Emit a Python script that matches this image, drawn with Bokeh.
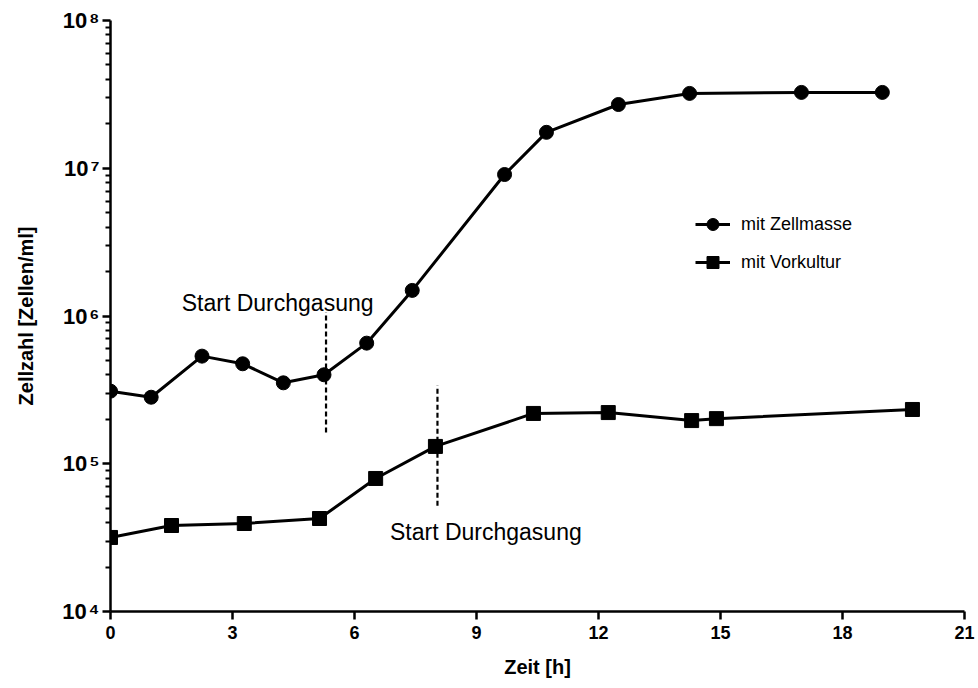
from bokeh.plotting import figure
from bokeh.models import FixedTicker, Legend, LegendItem
from bokeh.core.properties import value
from bokeh.embed import file_html
from bokeh.resources import INLINE

FONT = "Liberation Sans"

# --- data ---
zm_time = [0, 1.0, 2.25, 3.25, 4.25, 5.25, 6.3, 7.42, 9.69, 10.72, 12.49, 14.24, 16.99, 18.98]
zm_cells = [3.10e5, 2.82e5, 5.35e5, 4.75e5, 3.53e5, 4.0e5, 6.55e5, 1.49e6, 9.07e6,
            1.75e7, 2.70e7, 3.21e7, 3.26e7, 3.26e7]

vk_time = [0, 1.5, 3.29, 5.14, 6.52, 7.99, 10.4, 12.24, 14.29, 14.9, 19.72]
vk_cells = [3.17e4, 3.82e4, 3.94e4, 4.26e4, 7.95e4, 1.31e5, 2.19e5, 2.22e5, 1.96e5,
            2.02e5, 2.33e5]

gas_time = [5.3, 8.04]
gas_top = [1.06e6, 3.38e5]
gas_bottom = [1.63e5, 5.2e4]
gas_label_x = [4.11, 9.23]
gas_label_y = [1.23e6, 3.43e4]
gas_label = ["Start Durchgasung", "Start Durchgasung"]

series_names = ["mit Zellmasse", "mit Vorkultur"]

x_ticks = [0, 3, 6, 9, 12, 15, 18, 21]
y_ticks = [1e4, 1e5, 1e6, 1e7, 1e8]
y_tick_labels = ["10\u200a\u2074", "10\u200a\u2075", "10\u200a\u2076", "10\u200a\u2077", "10\u200a\u2078"]
y_minor = [m * 10 ** e for e in range(4, 8) for m in range(2, 10)]

p = figure(width=975, height=686, x_range=(0, 21), y_range=(1e4, 1e8),
           y_axis_type="log", output_backend="svg", toolbar_location=None,
           min_border_left=110, min_border_right=11, min_border_top=20,
           min_border_bottom=75)
p.outline_line_color = None
p.grid.visible = False
p.background_fill_color = "white"

# axes
p.xaxis.ticker = FixedTicker(ticks=x_ticks)
p.yaxis.ticker = FixedTicker(ticks=y_ticks, minor_ticks=y_minor)
p.yaxis.major_label_overrides = {t: l for t, l in zip(y_ticks, y_tick_labels)}
for ax in (p.xaxis[0], p.yaxis[0]):
    ax.axis_line_width = 2.5
    ax.axis_line_color = "black"
    ax.major_tick_line_width = 2.5
    ax.major_tick_line_color = "black"
    ax.major_tick_in = 0
    ax.major_tick_out = 8
    ax.minor_tick_line_width = 2
    ax.minor_tick_line_color = "black"
    ax.minor_tick_in = 0
    ax.minor_tick_out = 5
    ax.major_label_text_font = FONT
    ax.major_label_text_font_style = "bold"
    ax.major_label_text_color = "black"
    ax.axis_label_text_font = FONT
    ax.axis_label_text_font_style = "bold"
    ax.axis_label_text_font_size = "20px"
    ax.axis_label_text_color = "black"
p.xaxis.minor_tick_out = 0
p.xaxis.major_label_text_font_size = "18px"
p.yaxis.major_label_text_font_size = "22px"
p.xaxis.major_label_standoff = 6
p.yaxis.major_label_standoff = 3
p.xaxis.axis_label = "Zeit [h]"
p.yaxis.axis_label = "Zellzahl [Zellen/ml]"
p.xaxis.axis_label_standoff = 14
p.yaxis.axis_label_standoff = 22

# dashed markers for gassing start
p.segment(x0=gas_time, y0=gas_bottom, x1=gas_time, y1=gas_top,
          line_color="black", line_width=2.2, line_dash="5 3")
p.text(x=gas_label_x, y=gas_label_y, text=gas_label, text_align="center",
       text_baseline="alphabetic", text_font=value(FONT), text_font_size="23px",
       text_color="black")

# series
l1 = p.line(zm_time, zm_cells, line_color="black", line_width=3)
s1 = p.scatter(zm_time, zm_cells, marker="circle", size=14, fill_color="black",
               line_color="black")
l2 = p.line(vk_time, vk_cells, line_color="black", line_width=3)
s2 = p.scatter(vk_time, vk_cells, marker="square", size=14, fill_color="black",
               line_color="black")

legend = Legend(items=[LegendItem(label=series_names[0], renderers=[l1, s1]),
                       LegendItem(label=series_names[1], renderers=[l2, s2])],
                location=(585, 334), orientation="vertical",
                glyph_width=35, glyph_height=30, label_height=30, spacing=8,
                label_standoff=11, padding=0, margin=0,
                border_line_color=None, background_fill_alpha=0,
                label_text_font=FONT, label_text_font_size="18px",
                label_text_color="black")
p.add_layout(legend)

open("out.html", "w").write(file_html(p, INLINE))
